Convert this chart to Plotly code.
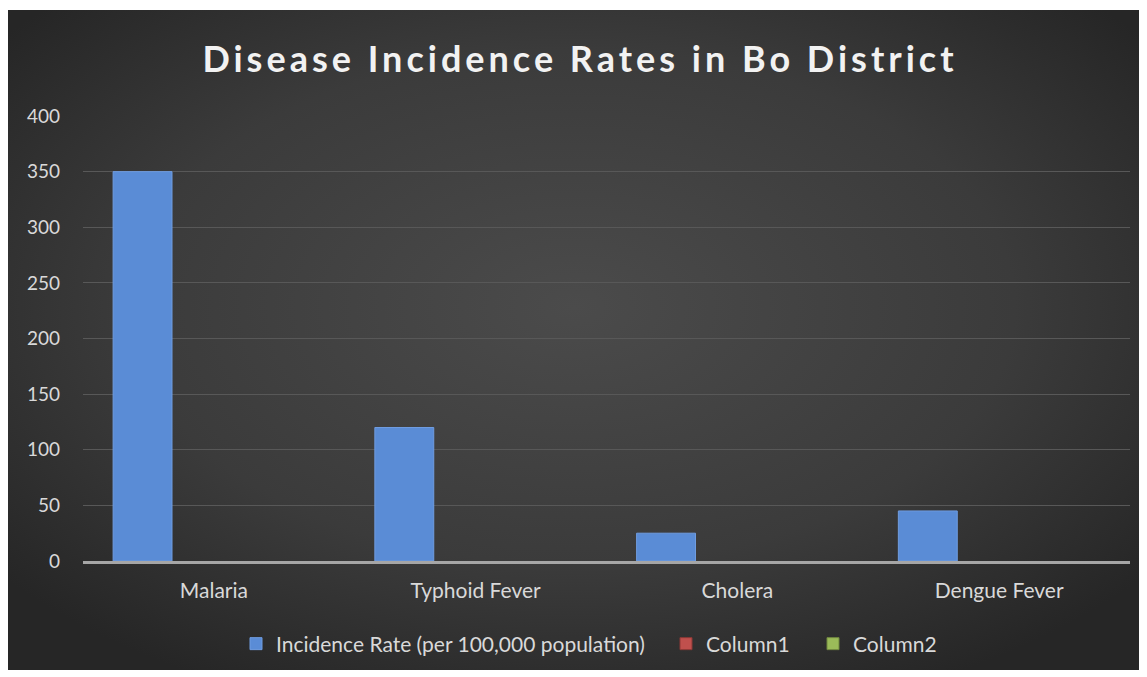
import base64
import plotly.graph_objects as go

categories = ["Malaria", "Typhoid Fever", "Cholera", "Dengue Fever"]
incidence = [350, 120, 25, 45]
column1 = [None, None, None, None]
column2 = [None, None, None, None]
y_ticks = [0, 50, 100, 150, 200, 250, 300, 350, 400]

svg = """<svg xmlns='http://www.w3.org/2000/svg' width='1131' height='660' viewBox='0 0 1131 660' preserveAspectRatio='none'>
<defs><radialGradient id='g' cx='50%' cy='45%' r='65%'>
<stop offset='0%' stop-color='#4b4b4b'/><stop offset='60%' stop-color='#3b3b3b'/><stop offset='100%' stop-color='#262626'/>
</radialGradient></defs><rect width='1131' height='660' fill='url(#g)'/></svg>"""
bg_uri = "data:image/svg+xml;base64," + base64.b64encode(svg.encode()).decode()

W, H = 1139, 669
L, R, T, B = 75, 17, 108, 116
pw, ph = W - L - R, H - T - B
PAGE_OFF = 8  # body margin of the html page


def px_to_paper_x(px):
    return (px - PAGE_OFF - L) / pw


leg_y = (553 - 636) / ph
leg_font = dict(family="Lato", size=21, color="#d9d9d9")


def leg(x_page):
    return dict(orientation="h", x=px_to_paper_x(x_page), xanchor="left",
                y=leg_y, yanchor="middle", font=leg_font,
                bgcolor="rgba(0,0,0,0)", itemwidth=30)


fig = go.Figure()
fig.add_trace(go.Bar(
    x=categories, y=incidence, name="Incidence Rate (per 100,000 population)",
    marker=dict(color="#5a8cd6", line=dict(color="#6f9ce0", width=1)),
    width=0.225, offset=-0.385, legend="legend",
))
fig.add_trace(go.Bar(
    x=categories, y=column1, name="Column1",
    marker=dict(color="#c0504d", line=dict(color="#8c3836", width=1)),
    width=0.225, offset=-0.112, legend="legend2",
))
fig.add_trace(go.Bar(
    x=categories, y=column2, name="Column2",
    marker=dict(color="#9bbb59", line=dict(color="#71893f", width=1)),
    width=0.225, offset=0.161, legend="legend3",
))

fig.update_layout(
    width=W, height=H,
    margin=dict(l=L, r=R, t=T, b=B),
    paper_bgcolor="white",
    plot_bgcolor="rgba(0,0,0,0)",
    barmode="overlay",
    title=dict(text="<b><span style='letter-spacing:4px'>Disease Incidence Rates in Bo District</span></b>",
               x=(580 - PAGE_OFF) / W, xanchor="center", y=1 - 51 / H, yanchor="middle",
               font=dict(family="Lato", size=36, color="#f2f2f2")),
    font=dict(family="Lato", color="#d9d9d9", size=21),
    showlegend=True,
    legend=leg(236),
    legend2=leg(666),
    legend3=leg(813),
    images=[dict(source=bg_uri, xref="paper", yref="paper",
                 x=-L / pw, y=(H - 2 - B) / ph, sizex=1131 / pw, sizey=660 / ph,
                 xanchor="left", yanchor="top", sizing="stretch", layer="below")],
)
fig.update_xaxes(
    range=[-0.5, 3.5], showgrid=False, showline=True, linecolor="#a6a6a6", linewidth=3,
    ticks="", tickfont=dict(size=21, color="#d9d9d9"), ticklabelstandoff=9, zeroline=False,
)
fig.update_yaxes(
    range=[0, 400], tickvals=y_ticks, showgrid=True, gridcolor="#585858", gridwidth=1,
    showline=False, zeroline=False, ticks="", tickfont=dict(size=19, color="#d9d9d9"),
    ticklabelstandoff=22,
)

fig.write_html("out.html")
